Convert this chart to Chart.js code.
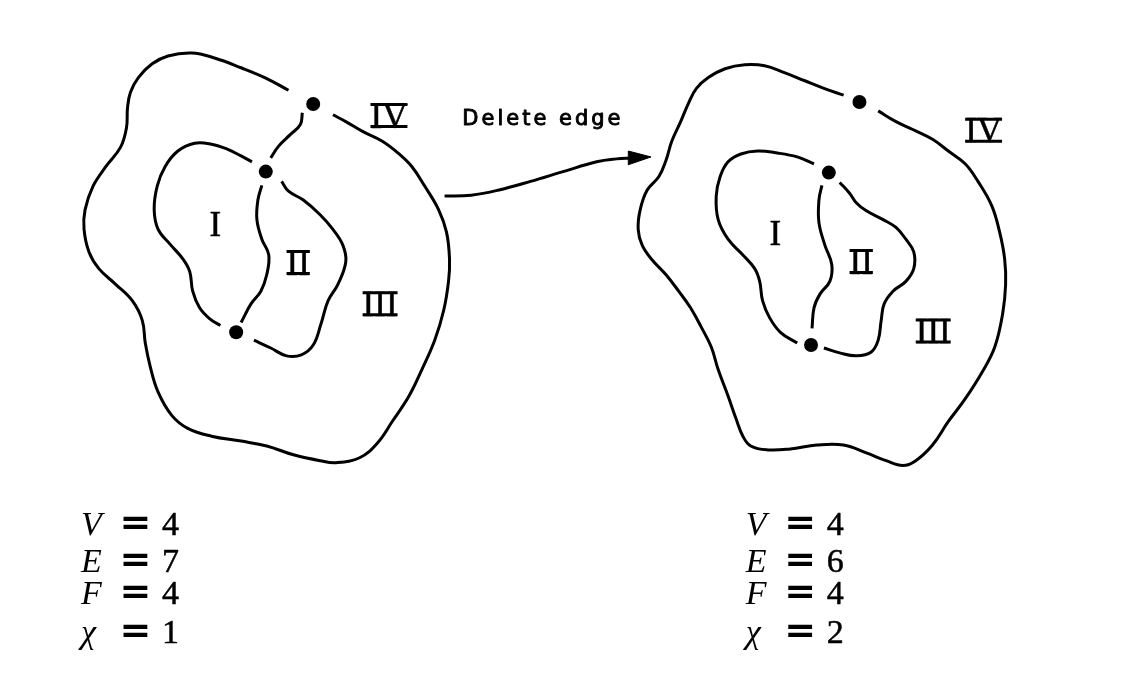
<!DOCTYPE html>
<html>
<head>
<meta charset="utf-8">
<title>Delete edge</title>
<script src="https://cdn.jsdelivr.net/npm/chart.js@4/dist/chart.umd.min.js"></script>
<style>
    html, body { margin: 0; padding: 0; background: #fff; }
    #wrap { width: 1144px; height: 696px; }
</style>
</head>
<body>
<div id="wrap"><canvas id="diagram" width="1144" height="696"></canvas></div>
<script>
// Curves, as [x, y] in page units (y grows downward)
const leftOuter = [
    [285, 85], [263, 73], [237, 62], [210, 52], [187, 47], [163, 50], [147, 58], [133, 72],
    [125, 87], [122, 103], [121, 123], [115, 143], [100, 163], [87, 183], [79, 207], [78, 227],
    [83, 250], [93, 267], [110, 283], [127, 300], [137, 320], [140, 343], [145, 367], [153, 393],
    [167, 417], [183, 430], [207, 438], [237, 443], [263, 448], [290, 457], [317, 463], [333, 465],
    [357, 460], [375, 445], [390, 423], [407, 397], [420, 370], [433, 340], [442, 310], [447, 280],
    [448, 257], [445, 230], [437, 207], [423, 183], [410, 163], [397, 150], [380, 137], [360, 127],
    [343, 117], [330, 110]
];
const leftInnerA = [
    [248, 158], [237, 152], [223, 145], [207, 140], [190, 139], [173, 147], [160, 163], [152, 183],
    [149, 207], [153, 227], [165, 242], [178, 257], [185, 270], [188, 290], [195, 307], [205, 318], [216, 325]
];
const leftInnerB = [
    [250, 340], [267, 348], [283, 356], [298, 355], [310, 345], [318, 323], [325, 300], [335, 283],
    [343, 260], [340, 243], [330, 227], [317, 212], [300, 197], [285, 188], [278, 178]
];
const leftMiddle = [
    [258, 182], [254, 197], [253, 217], [258, 237], [265, 253], [263, 273], [257, 290], [247, 303], [237, 322]
];
const leftTop = [[299, 108], [297, 120], [287, 130], [275, 142], [267, 154]];
const leftDots = [[310, 99], [262, 168], [232, 332]];

const rightOuter = [
    [847, 90], [827, 83], [807, 75], [787, 67], [767, 60], [747, 59], [727, 63], [710, 72],
    [698, 83], [690, 98], [682, 117], [673, 137], [667, 157], [660, 173], [648, 187], [641, 207],
    [639, 227], [643, 243], [653, 258], [667, 273], [680, 290], [692, 307], [703, 327], [713, 347],
    [720, 370], [730, 397], [738, 420], [745, 438], [753, 448], [770, 452], [793, 451], [820, 447],
    [847, 447], [870, 455], [890, 463], [907, 468], [920, 463], [937, 447], [953, 423], [970, 400],
    [987, 373], [1000, 347], [1008, 313], [1011, 283], [1010, 257], [1005, 230], [997, 203], [983, 178],
    [970, 160], [953, 147], [937, 135], [917, 125], [900, 117], [882, 106]
];
const rightInnerA = [
    [817, 160], [800, 153], [780, 149], [760, 147], [743, 150], [730, 158], [722, 173], [718, 193],
    [720, 217], [730, 237], [745, 253], [757, 267], [762, 280], [765, 300], [772, 317], [783, 332], [800, 343]
];
const rightInnerB = [
    [827, 348], [843, 353], [860, 356], [875, 352], [882, 340], [885, 320], [888, 303], [897, 290],
    [910, 280], [918, 267], [918, 250], [910, 237], [900, 225], [887, 217], [870, 208], [860, 200],
    [853, 190], [843, 179]
];
const rightMiddle = [
    [825, 182], [822, 197], [822, 220], [828, 243], [835, 263], [833, 280], [823, 293], [817, 307], [815, 328]
];
const rightDots = [[863, 97], [832, 169], [814, 345]];

const arrowLine = [[443, 193], [470, 192], [497, 187], [530, 178], [563, 168], [597, 158], [617, 155], [633, 154]];
const arrowHead = [[629, 147], [652, 153], [629, 161], [629, 147]];

// Text
const arrowCaption = 'Delete edge';
const regionNames = ['I', 'II', 'III', 'IV'];
const leftRegionAt = [[205, 234], [283, 273], [360, 315], [368, 123]];
const rightRegionAt = [[772, 243], [853, 272], [920, 343], [970, 138]];
const symbols = ['V', 'E', 'F', 'χ'];
const leftValues = [4, 7, 4, 1];
const rightValues = [4, 6, 4, 2];
const rowBaselines = [539, 577, 609, 649];

const SERIF = '"Liberation Serif"';

function toPoints(list) {
    return list.map(p => ({ x: p[0], y: p[1] }));
}

function curve(list) {
    return {
        data: toPoints(list),
        showLine: true,
        borderColor: '#000',
        borderWidth: 3,
        tension: 0.4,
        pointRadius: 0,
        fill: false
    };
}

function dots(list) {
    return {
        data: toPoints(list),
        showLine: false,
        pointRadius: 7,
        pointBackgroundColor: '#000',
        pointBorderColor: '#000',
        pointBorderWidth: 0
    };
}

// fill plus a thin outline, for the slightly heavier printed look
function heavyText(ctx, text, x, y, weight) {
    if (weight > 0) {
        ctx.lineWidth = weight;
        ctx.strokeText(text, x, y);
    }
    ctx.fillText(text, x, y);
}

// Draws the labels and equations in page units through the chart scales
const textLayer = {
    id: 'textLayer',
    afterDatasetsDraw(chart) {
        const ctx = chart.ctx;
        const sx = v => chart.scales.x.getPixelForValue(v);
        const sy = v => chart.scales.y.getPixelForValue(v);

        ctx.save();
        ctx.fillStyle = '#000';
        ctx.strokeStyle = '#000';
        ctx.lineJoin = 'round';
        ctx.textBaseline = 'alphabetic';
        ctx.textAlign = 'left';

        // caption over the arrow
        ctx.font = '21px "DejaVu Sans"';
        ctx.letterSpacing = '3px';
        heavyText(ctx, arrowCaption, sx(461), sy(120), 0.9);
        ctx.letterSpacing = '0px';

        // roman numerals with bars
        ctx.font = '35px ' + SERIF;
        [leftRegionAt, rightRegionAt].forEach(spots => {
            spots.forEach((pos, i) => {
                const name = regionNames[i];
                const x = sx(pos[0]);
                const y = sy(pos[1]);
                heavyText(ctx, name, x, y, 0.5);
                if (name.length > 1) {
                    const w = ctx.measureText(name).width;
                    ctx.lineWidth = 3;
                    ctx.beginPath();
                    ctx.moveTo(x, y - 23);
                    ctx.lineTo(x + w, y - 23);
                    ctx.moveTo(x, y - 1);
                    ctx.lineTo(x + w, y - 1);
                    ctx.stroke();
                }
            });
        });

        // V, E, F, chi columns
        [[75, leftValues], [748, rightValues]].forEach(([x0, values]) => {
            symbols.forEach((sym, i) => {
                const y = sy(rowBaselines[i]);
                ctx.font = 'italic 34px ' + SERIF;
                heavyText(ctx, sym, sx(x0), y, 0);
                ctx.font = 'bold 38px "DejaVu Serif"';
                ctx.fillText('=', sx(x0 + 39), y);
                ctx.font = '34px ' + SERIF;
                heavyText(ctx, String(values[i]), sx(x0 + 82), y, 0.5);
            });
        });
        ctx.restore();
    }
};

const datasets = [
    curve(leftOuter), curve(leftInnerA), curve(leftInnerB), curve(leftMiddle), curve(leftTop),
    curve(rightOuter), curve(rightInnerA), curve(rightInnerB), curve(rightMiddle),
    curve(arrowLine),
    {
        data: toPoints(arrowHead),
        showLine: true,
        tension: 0,
        borderColor: '#000',
        borderWidth: 1,
        backgroundColor: '#000',
        pointRadius: 0,
        fill: 'shape'
    },
    dots(leftDots), dots(rightDots)
];

new Chart(document.getElementById('diagram').getContext('2d'), {
    type: 'scatter',
    data: { datasets: datasets },
    options: {
        responsive: false,
        animation: false,
        devicePixelRatio: 1,
        layout: { padding: 0 },
        scales: {
            x: { type: 'linear', min: 0, max: 1144, display: false },
            y: { type: 'linear', min: 0, max: 696, reverse: true, display: false }
        },
        plugins: {
            legend: { display: false },
            tooltip: { enabled: false }
        }
    },
    plugins: [textLayer]
});
</script>
</body>
</html>
